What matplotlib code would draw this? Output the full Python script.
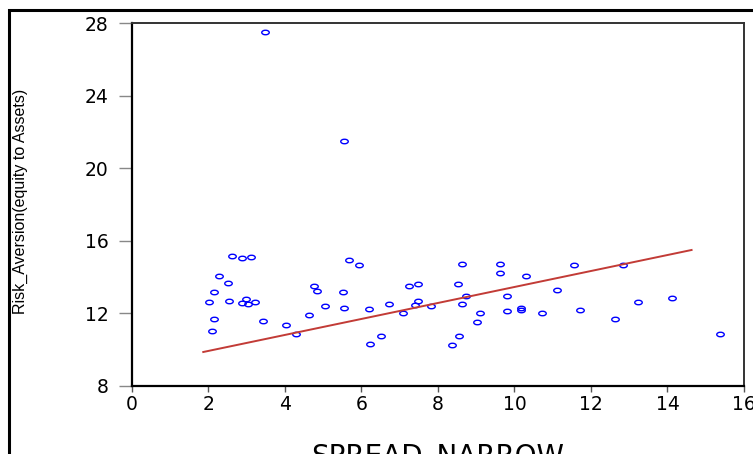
import numpy as np
import matplotlib
matplotlib.use("Agg")
import matplotlib.pyplot as plt
from matplotlib.path import Path
from matplotlib.transforms import Affine2D
from matplotlib.patches import Rectangle

# valores
spread_narrow = [3.49, 5.56, 2.62, 2.87, 3.12, 2.28, 2.51, 2.15, 2.02, 2.54,
                 2.88, 2.99, 3.05, 3.22, 2.14, 2.11, 3.43, 4.03, 4.30, 4.63,
                 4.76, 4.84, 5.05, 5.52, 5.56, 5.67, 5.95, 6.19, 6.23, 6.52,
                 6.73, 7.09, 7.25, 7.48, 7.41, 7.49, 7.81, 8.36, 8.56, 8.53,
                 8.62, 8.64, 8.74, 9.01, 9.10, 9.62, 9.63, 9.80, 9.82, 10.16,
                 10.16, 10.31, 10.72, 11.12, 11.55, 11.71, 12.63, 12.85, 13.22, 14.13,
                 15.36]
risk_aversion = [27.50, 21.50, 15.16, 15.05, 15.12, 14.05, 13.68, 13.17, 12.64, 12.66,
                 12.55, 12.78, 12.49, 12.64, 11.66, 11.04, 11.55, 11.37, 10.84, 11.92,
                 13.52, 13.24, 12.40, 13.19, 12.29, 14.94, 14.66, 12.22, 10.28, 10.76,
                 12.49, 12.03, 13.52, 13.59, 12.43, 12.67, 12.42, 10.26, 10.74, 13.61,
                 14.70, 12.49, 12.97, 11.53, 12.01, 14.73, 14.22, 12.95, 12.14, 12.31,
                 12.18, 14.05, 12.03, 13.30, 14.66, 12.20, 11.70, 14.64, 12.60, 12.82,
                 10.84]

# recta de ajuste (extremos leidos)
fit_x = [1.87, 14.63]
fit_y = [9.86, 15.49]

x_ticks = [0, 2, 4, 6, 8, 10, 12, 14, 16]
y_ticks = [8, 12, 16, 20, 24, 28]

W, H = 753, 454
fig = plt.figure(figsize=(W / 100, H / 100), dpi=100)
ax = fig.add_axes([131.7 / W, 1 - 385.7 / H, (744 - 131.7) / W, (385.7 - 23.3) / H])

# marco exterior
fig.patches.append(Rectangle((8.5 / W, -0.2), 1.2, 1 - 10.5 / H + 0.2,
                             transform=fig.transFigure, fill=False,
                             edgecolor="black", linewidth=2.2, clip_on=False))

elipse = Path.unit_circle().transformed(Affine2D().scale(1, 0.6))
ax.plot(spread_narrow, risk_aversion, linestyle="none", marker=elipse,
        markersize=5.4, markerfacecolor="none", markeredgecolor="#0000FF",
        markeredgewidth=1.0)
ax.plot(fit_x, fit_y, color="#C23B36", linewidth=1.4)

ax.set_xlim(0, 16)
ax.set_ylim(8, 28)
ax.set_xticks(x_ticks)
ax.set_yticks(y_ticks)

for lado in ["left", "bottom"]:
    ax.spines[lado].set_color("black")
    ax.spines[lado].set_linewidth(1.6)
for lado in ["top", "right"]:
    ax.spines[lado].set_color("#333333")
    ax.spines[lado].set_linewidth(1.4)

ax.tick_params(axis="y", direction="out", length=9.5, width=1.0, color="#888888",
               pad=7, labelsize=13.5)
ax.tick_params(axis="x", direction="out", length=4.5, width=1.0, color="#555555",
               pad=2.5, labelsize=13.5)
for lab in ax.get_xticklabels() + ax.get_yticklabels():
    lab.set_family("DejaVu Sans")

fig.text(20 / W, 1 - 201.5 / H, "Risk_Aversion(equity to Assets)", rotation=90,
         ha="center", va="center", fontsize=11.5, family="Liberation Sans")
fig.text(437.9 / W, 1 - 443.5 / H, "SPREAD_NARROW", ha="center", va="top",
         fontsize=20, family="DejaVu Sans")

fig.savefig("out.png", dpi=100)
